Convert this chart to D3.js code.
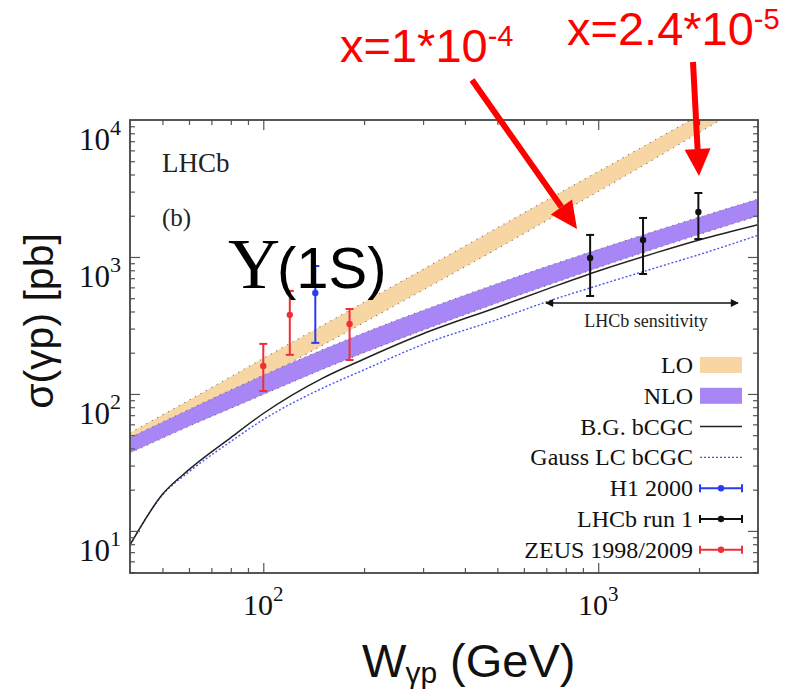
<!DOCTYPE html>
<html>
<head>
<meta charset="utf-8">
<title>Upsilon(1S) photoproduction cross section</title>
<script src="https://d3js.org/d3.v7.min.js"></script>
<style>
  body { margin: 0; background: #fff; }
  svg { display: block; }
</style>
</head>
<body>
<script>
// theory bands, sigma in pb vs W in GeV
var loW  = [40, 60, 100, 150, 200, 300, 500, 700, 1000, 1500, 2000, 2500];
var loHi = [52, 90, 182, 316, 468, 813, 1635, 2590, 4200, 7300, 10800, 14700];
var loLo = [41, 68, 132, 226, 332, 573, 1150, 1835, 3000, 5340, 8090, 11140];

var nloW  = [40, 60, 100, 150, 200, 300, 500, 700, 1000, 1500, 2000, 3000];
var nloHi = [48, 77, 137, 210, 280, 409, 641, 851, 1137, 1567, 1954, 2649];
var nloLo = [37, 58, 99, 151, 200, 292, 461, 617, 836, 1161, 1458, 1992];

// dipole model curves
var cgcW     = [40, 50, 60, 80, 100, 150, 200, 300, 500, 700, 1000, 1500, 2000, 3000];
var bgCgc    = [7.9, 18.5, 28, 48, 72, 130, 180, 275, 430, 580, 790, 1080, 1330, 1720];
var gaussCgc = [7.9, 18.3, 27, 45, 65, 110, 150, 230, 350, 470, 620, 840, 1040, 1440];

// measurements: W, sigma, upper, lower
var zeusW = [100, 120, 181], zeusS = [160, 378, 324], zeusUp = [232, 565, 417], zeusDn = [105, 193, 177];
var h1W = [143], h1S = [546], h1Up = [859], h1Dn = [236];
var lhcbW = [946, 1361, 1991], lhcbS = [984, 1331, 2129], lhcbUp = [1449, 1927, 2931], lhcbDn = [519, 751, 1353];

var legendNames = ["LO", "NLO", "B.G. bCGC", "Gauss LC bCGC", "H1 2000", "LHCb run 1", "ZEUS 1998/2009"];

var LO_COL = "#f7d6a3", NLO_COL = "#a886f5", ZEUS_COL = "#ee2f35", H1_COL = "#2a3cf0", LHCB_COL = "#111";
var SERIF = "'Liberation Serif', 'DejaVu Serif', serif";
var SANS = "'Liberation Sans', Arial, sans-serif";

var width = 805, height = 692;
var L = 130, R = 758, T = 120, B = 573;

var svg = d3.select("body").append("svg")
  .attr("width", width).attr("height", height);

var x = d3.scaleLog().domain([40, 3000]).range([L, R]);
var y = d3.scaleLog().domain([4.93, 10000]).range([B, T]);

svg.append("clipPath").attr("id", "plotclip")
  .append("rect").attr("x", L).attr("y", T).attr("width", R - L).attr("height", B - T);

var plot = svg.append("g").attr("clip-path", "url(#plotclip)");

function zip(ws, a, b) {
  return ws.map(function(w, i) { return {w: w, hi: a[i], lo: b ? b[i] : null}; });
}

// bands
function band(ws, hi, lo, col) {
  var d = zip(ws, hi, lo);
  plot.append("path").datum(d)
    .attr("fill", col)
    .attr("d", d3.area().x(function(p) { return x(p.w); })
      .y0(function(p) { return y(p.lo); })
      .y1(function(p) { return y(p.hi); })
      .curve(d3.curveMonotoneX));
  ["hi", "lo"].forEach(function(k) {
    plot.append("path").datum(d)
      .attr("fill", "none").attr("stroke", "#555").attr("stroke-width", 1.1)
      .attr("stroke-dasharray", "1.2,5").attr("opacity", 0.75)
      .attr("d", d3.line().x(function(p) { return x(p.w); })
        .y(function(p) { return y(p[k]); }).curve(d3.curveMonotoneX));
  });
}
band(loW, loHi, loLo, LO_COL);
band(nloW, nloHi, nloLo, NLO_COL);

// curves
var curve = d3.line().x(function(p) { return x(p.w); }).y(function(p) { return y(p.hi); })
  .curve(d3.curveMonotoneX);
plot.append("path").datum(zip(cgcW, gaussCgc))
  .attr("fill", "none").attr("stroke", "#4a55ee").attr("stroke-width", 1.4)
  .attr("stroke-dasharray", "2,2").attr("d", curve);
plot.append("path").datum(zip(cgcW, bgCgc))
  .attr("fill", "none").attr("stroke", "#222").attr("stroke-width", 1.5).attr("d", curve);

// data points
function points(ws, s, up, dn, col) {
  var g = plot.append("g").attr("stroke", col).attr("fill", col);
  ws.forEach(function(w, i) {
    var cx = x(w);
    g.append("line").attr("x1", cx).attr("x2", cx).attr("y1", y(up[i])).attr("y2", y(dn[i])).attr("stroke-width", 2);
    g.append("line").attr("x1", cx - 4).attr("x2", cx + 4).attr("y1", y(up[i])).attr("y2", y(up[i])).attr("stroke-width", 2);
    g.append("line").attr("x1", cx - 4).attr("x2", cx + 4).attr("y1", y(dn[i])).attr("y2", y(dn[i])).attr("stroke-width", 2);
    g.append("circle").attr("cx", cx).attr("cy", y(s[i])).attr("r", 3.2).attr("stroke", "none");
  });
}
points(zeusW, zeusS, zeusUp, zeusDn, ZEUS_COL);
points(h1W, h1S, h1Up, h1Dn, H1_COL);
points(lhcbW, lhcbS, lhcbUp, lhcbDn, LHCB_COL);

// ticks on all four sides, pointing inward
function isMajor(v) { return Math.abs(Math.log10(v) - Math.round(Math.log10(v))) < 1e-9; }
var xt = x.ticks().filter(function(v) { return v > 40 && v < 3000; });
var yt = y.ticks().filter(function(v) { return v > 4.93 && v < 10000; });
var xMaj = xt.filter(isMajor), xMin = xt.filter(function(v) { return !isMajor(v); });
var yMaj = yt.filter(isMajor), yMin = yt.filter(function(v) { return !isMajor(v); });

function tickSet(axis, pos, vals, len) {
  var g = svg.append("g").attr("transform", pos)
    .call(axis.tickValues(vals).tickSize(-len).tickFormat(""));
  g.select(".domain").remove();
  g.selectAll("line").attr("stroke", "#555").attr("stroke-width", 1.2);
}
tickSet(d3.axisBottom(x), "translate(0," + B + ")", xMin, 5);
tickSet(d3.axisBottom(x), "translate(0," + B + ")", xMaj, 10);
tickSet(d3.axisTop(x), "translate(0," + T + ")", xMin, 5);
tickSet(d3.axisTop(x), "translate(0," + T + ")", xMaj, 10);
tickSet(d3.axisLeft(y), "translate(" + L + ",0)", yMin, 5);
tickSet(d3.axisLeft(y), "translate(" + L + ",0)", yMaj, 10);
tickSet(d3.axisRight(y), "translate(" + R + ",0)", yMin, 5);
tickSet(d3.axisRight(y), "translate(" + R + ",0)", yMaj, 10);

svg.append("rect").attr("x", L).attr("y", T).attr("width", R - L).attr("height", B - T)
  .attr("fill", "none").attr("stroke", "#444").attr("stroke-width", 1.8);

// tick labels 10^n
xMaj.forEach(function(v) {
  var t = svg.append("text").attr("font-family", SERIF).attr("x", x(v)).attr("y", B + 42)
    .attr("text-anchor", "middle").attr("font-size", 30).attr("fill", "#111");
  t.append("tspan").text("10");
  t.append("tspan").attr("font-size", 21).attr("dy", -14).text(Math.round(Math.log10(v)));
});
yMaj.concat([10000]).forEach(function(v) {
  var t = svg.append("text").attr("font-family", SERIF).attr("x", 121).attr("y", y(v) + 30)
    .attr("text-anchor", "end").attr("font-size", 31).attr("fill", "#111");
  t.append("tspan").text("10");
  t.append("tspan").attr("font-size", 22).attr("dy", -15).text(Math.round(Math.log10(v)));
});

// axis titles
var xt1 = svg.append("text").attr("font-family", SANS).attr("x", 362).attr("y", 677)
  .attr("font-size", 47).attr("fill", "#111");
xt1.append("tspan").text("W");
xt1.append("tspan").attr("font-size", 30).attr("dy", 6).attr("dx", -1).text("γp");
xt1.append("tspan").attr("dy", -6).attr("dx", 0).text(" (GeV)");

svg.append("text").attr("font-family", SANS)
  .attr("transform", "translate(53,321) rotate(-90)")
  .attr("text-anchor", "middle").attr("font-size", 41).attr("fill", "#111")
  .text("σ(γp) [pb]");

// in-plot labels
svg.append("text").attr("font-family", SERIF).attr("x", 162).attr("y", 172)
  .attr("font-size", 27).attr("fill", "#222").text("LHCb");
svg.append("text").attr("font-family", SERIF).attr("x", 162).attr("y", 226)
  .attr("font-size", 25).attr("fill", "#222").text("(b)");

svg.append("text").attr("font-family", SERIF).attr("x", 228).attr("y", 288)
  .attr("font-size", 72).attr("fill", "#000").text("Υ");
svg.append("text").attr("font-family", SANS).attr("x", 277).attr("y", 288)
  .attr("font-size", 58).attr("fill", "#000").text("(1S)");

// LHCb sensitivity range
svg.append("defs").append("marker").attr("id", "ah")
  .attr("viewBox", "0 0 10 10").attr("refX", 9).attr("refY", 5)
  .attr("markerWidth", 10).attr("markerHeight", 8).attr("markerUnits", "userSpaceOnUse")
  .attr("orient", "auto-start-reverse")
  .append("path").attr("d", "M0,0 L10,5 L0,10 Z").attr("fill", "#111");
svg.append("line").attr("x1", 546).attr("x2", 738).attr("y1", 303).attr("y2", 303)
  .attr("stroke", "#111").attr("stroke-width", 1.5)
  .attr("marker-start", "url(#ah)").attr("marker-end", "url(#ah)");
svg.append("text").attr("font-family", SERIF).attr("x", 646).attr("y", 327)
  .attr("text-anchor", "middle").attr("font-size", 18).attr("fill", "#222").text("LHCb sensitivity");

// legend
var legX = 693, legY0 = 365, legDy = 30.8;
legendNames.forEach(function(name, i) {
  var cy = legY0 + i * legDy;
  svg.append("text").attr("font-family", SERIF).attr("x", legX).attr("y", cy + 8)
    .attr("text-anchor", "end").attr("font-size", 24).attr("fill", "#111").text(name);
  var sx0 = 700, sx1 = 742;
  if (i === 0 || i === 1) {
    svg.append("rect").attr("x", sx0).attr("y", cy - 8).attr("width", sx1 - sx0).attr("height", 16)
      .attr("fill", i === 0 ? LO_COL : NLO_COL);
  } else if (i === 2) {
    svg.append("line").attr("x1", sx0).attr("x2", sx1).attr("y1", cy).attr("y2", cy)
      .attr("stroke", "#222").attr("stroke-width", 1.5);
  } else if (i === 3) {
    svg.append("line").attr("x1", sx0).attr("x2", sx1).attr("y1", cy).attr("y2", cy)
      .attr("stroke", "#4a55ee").attr("stroke-width", 1.4).attr("stroke-dasharray", "2,2");
  } else {
    var col = [H1_COL, LHCB_COL, ZEUS_COL][i - 4];
    var g = svg.append("g").attr("stroke", col).attr("fill", col);
    g.append("line").attr("x1", sx0).attr("x2", sx1).attr("y1", cy).attr("y2", cy).attr("stroke-width", 2);
    g.append("line").attr("x1", sx0).attr("x2", sx0).attr("y1", cy - 4).attr("y2", cy + 4).attr("stroke-width", 2);
    g.append("line").attr("x1", sx1).attr("x2", sx1).attr("y1", cy - 4).attr("y2", cy + 4).attr("stroke-width", 2);
    g.append("circle").attr("cx", (sx0 + sx1) / 2).attr("cy", cy).attr("r", 3.2).attr("stroke", "none");
  }
});

// red annotations
function redArrow(x1, y1, x2, y2) {
  var a = Math.atan2(y2 - y1, x2 - x1), hl = 27, hw = 13;
  var bx = x2 - hl * Math.cos(a), by = y2 - hl * Math.sin(a);
  svg.append("line").attr("x1", x1).attr("y1", y1).attr("x2", bx).attr("y2", by)
    .attr("stroke", "#ff0000").attr("stroke-width", 6);
  var px = -Math.sin(a) * hw, py = Math.cos(a) * hw;
  svg.append("path")
    .attr("d", "M" + x2 + "," + y2 + "L" + (bx + px) + "," + (by + py) + "L" + (bx - px) + "," + (by - py) + "Z")
    .attr("fill", "#ff0000");
}
redArrow(472, 80, 577, 229);
redArrow(693, 62, 699, 176);

function redLabel(xp, yp, base, exp) {
  var t = svg.append("text").attr("font-family", SANS).attr("x", xp).attr("y", yp)
    .attr("font-size", 47).attr("fill", "#ff0000");
  t.append("tspan").text(base);
  t.append("tspan").attr("font-size", 29).attr("dy", -16).text(exp);
}
redLabel(340, 62, "x=1*10", "-4");
redLabel(567, 45, "x=2.4*10", "-5");
</script>
</body>
</html>
